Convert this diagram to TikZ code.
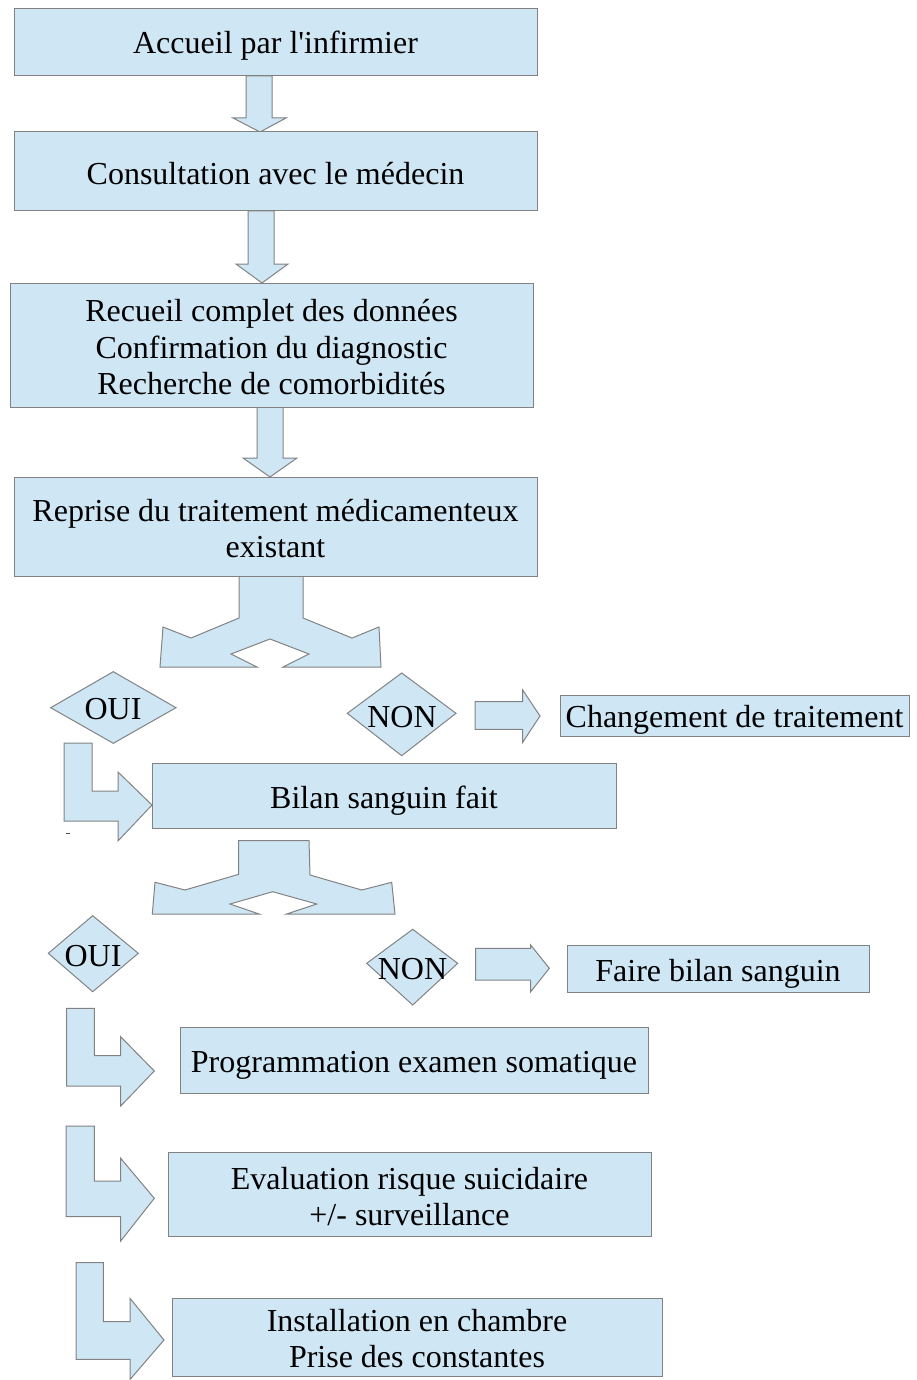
\documentclass[tikz,border=0pt]{standalone}
\usepackage{fontspec}
\setmainfont{Liberation Serif}
\definecolor{boxfill}{RGB}{207,231,245}
\definecolor{boxline}{RGB}{130,130,130}
\begin{document}
\begin{tikzpicture}[x=1pt,y=-1pt,
  box/.style={draw=boxline, fill=boxfill, line width=1pt, inner sep=0pt},
  boxtext/.style={inner sep=0pt, align=center, font=\fontsize{32}{36.5}\selectfont},
  shp/.style={draw=boxline, fill=boxfill, line width=1pt, line join=miter},
  lbl/.style={font=\fontsize{32}{36.5}\selectfont, inner sep=0pt}]
\useasboundingbox (0,0) rectangle (916,1380);

% down arrows
\path[shp] (246,76) -- (272,76) -- (272,118) -- (286,118) -- (260,132) -- (233,118) -- (246,118) -- cycle;
\path[shp] (248,211) -- (274,211) -- (274,264) -- (288,264) -- (262,283) -- (236,264) -- (248,264) -- cycle;
\path[shp] (257,407) -- (283,407) -- (283,458) -- (297,458) -- (270,477) -- (243,458) -- (257,458) -- cycle;

% split arrows
\path[shp] (239,576) -- (239,618) -- (191,638) -- (163,627) -- (160,667) -- (257,667) -- (231,654)
  -- (270,639) -- (309,654) -- (283,667) -- (381,667) -- (379,627) -- (352,638) -- (303,618) -- (303,576) -- cycle;
\path[shp] (238.7,840.7) -- (238.7,874.3) -- (185,890) -- (155,882.3) -- (152.3,914) -- (259,914) -- (230,904)
  -- (272.7,891.7) -- (316.7,904) -- (286.7,914) -- (395,914) -- (391.7,882.3) -- (361.7,890) -- (310,875) -- (309,840.7) -- cycle;

% diamonds
\path[shp] (50.7,707.7) -- (113.3,671.7) -- (176,707.7) -- (113.3,743.3) -- cycle;
\node[lbl] (oui1) at (113,709) {OUI};
\path[shp] (347.3,713.3) -- (401.7,673) -- (456,713.3) -- (401.7,755.7) -- cycle;
\node[lbl] (non1) at (402,717) {NON};
\path[shp] (48.3,953.3) -- (92.7,915.7) -- (138.3,953.3) -- (92.7,991.7) -- cycle;
\node[lbl] (oui2) at (93,956) {OUI};
\path[shp] (366.7,963.3) -- (412.7,929.3) -- (457.7,963.3) -- (412.7,1005) -- cycle;
\node[lbl] (non2) at (412.5,969) {NON};

% right arrows
\path[shp] (475,701.7) -- (522.7,701.7) -- (522.7,690) -- (540,716) -- (522.7,742.3) -- (522.7,729.3) -- (475,729.3) -- cycle;
\path[shp] (475.7,948.3) -- (530.7,948.3) -- (530.7,945) -- (549.3,968.3) -- (530.7,991.7) -- (530.7,980) -- (475.7,980) -- cycle;

% bent arrows
\path[shp] (64,743) -- (92,743) -- (92,791) -- (118,791) -- (118,772) -- (152,805) -- (118,841) -- (118,821) -- (64,821) -- cycle;
\path[shp] (66.7,1008.3) -- (94.3,1008.3) -- (94.3,1055.7) -- (120.7,1055.7) -- (120.7,1036.7) -- (154.3,1071)
  -- (120.7,1106) -- (120.7,1086) -- (66.7,1086) -- cycle;
\path[shp] (66,1126) -- (94.3,1126) -- (94.3,1181) -- (120.7,1181) -- (120.7,1158.3) -- (154.3,1198.3)
  -- (120.7,1241) -- (120.7,1216.7) -- (66,1216.7) -- cycle;
\path[shp] (76,1262.7) -- (103.3,1262.7) -- (103.3,1321.7) -- (130,1321.7) -- (130,1298.3) -- (164,1340)
  -- (130,1379.5) -- (130,1359.3) -- (76,1359.3) -- cycle;

% small mark
\draw[boxline!60!black, line width=1pt] (66,833) -- (70,833);

% boxes
\node[box, minimum width=523pt, minimum height=67pt] (accueil) at (275.5,42.5) {};
\node[boxtext, yshift=-3.5pt] at (accueil.center) {Accueil par l\textquotesingle infirmier};
\node[box, minimum width=523pt, minimum height=79pt] (consult) at (275.5,171.5) {};
\node[boxtext, yshift=-2.5pt] at (consult.center) {Consultation avec le médecin};
\node[box, minimum width=523pt, minimum height=124pt] (recueil) at (271.5,345) {};
\node[boxtext, yshift=-2.5pt] at (recueil.center) {Recueil complet des données\\Confirmation du diagnostic\\Recherche de comorbidités};
\node[box, minimum width=523pt, minimum height=99pt] (reprise) at (275.5,526.5) {};
\node[boxtext, yshift=-2pt] at (reprise.center) {Reprise du traitement médicamenteux\\existant};
\node[box, minimum width=349pt, minimum height=41pt] (change) at (734.5,715.5) {};
\node[boxtext, yshift=-4pt] at (change.center) {Changement de traitement};
\node[box, minimum width=464pt, minimum height=65pt] (bilan) at (384,795.5) {};
\node[boxtext, yshift=-5pt] at (bilan.center) {Bilan sanguin fait};
\node[box, minimum width=302pt, minimum height=47pt] (faire) at (718,968.5) {};
\node[boxtext, yshift=-5pt] at (faire.center) {Faire bilan sanguin};
\node[box, minimum width=468pt, minimum height=66pt] (prog) at (414,1060) {};
\node[boxtext, yshift=-5pt] at (prog.center) {Programmation examen somatique};
\node[box, minimum width=483pt, minimum height=84pt] (eval) at (409.5,1194) {};
\node[boxtext, yshift=-2.5pt] at (eval.center) {Evaluation risque suicidaire\\+/- surveillance};
\node[box, minimum width=490pt, minimum height=78pt] (install) at (417,1337) {};
\node[boxtext, yshift=-1.5pt] at (install.center) {Installation en chambre\\Prise des constantes};
\end{tikzpicture}
\end{document}
